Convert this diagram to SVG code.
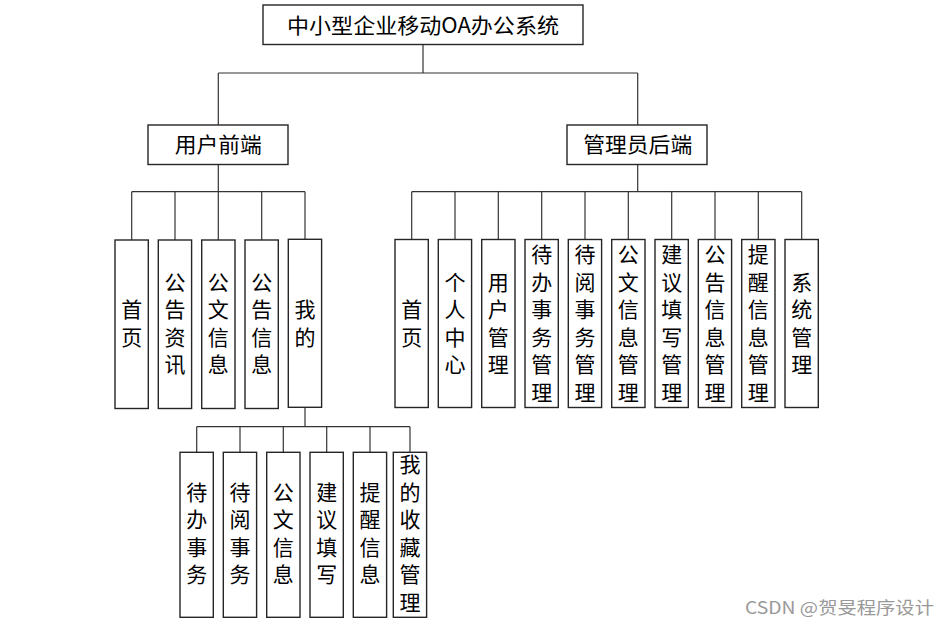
<svg xmlns="http://www.w3.org/2000/svg" width="951" height="629" viewBox="0 0 951 629">
<style>
rect{fill:#fff;stroke:#262626;stroke-width:1.4}
text{font-family:"Noto Sans CJK SC","Noto Sans",sans-serif;font-size:21px;fill:#000;text-anchor:middle}
#connectors line{stroke:#333;stroke-width:1.2}
.wm{font-size:17px;fill:#999;text-anchor:start}
</style>
<rect x="0" y="0" width="951" height="629" style="fill:#fff;stroke:none"/>
<g id="connectors">
<line x1="423" y1="44" x2="423" y2="73"/>
<line x1="218.3" y1="73" x2="637.7" y2="73"/>
<line x1="218.3" y1="73" x2="218.3" y2="125"/>
<line x1="637.7" y1="73" x2="637.7" y2="125"/>
<line x1="218.3" y1="164" x2="218.3" y2="191.7"/>
<line x1="131.7" y1="191.7" x2="305" y2="191.7"/>
<line x1="131.7" y1="191.7" x2="131.7" y2="240"/>
<line x1="175" y1="191.7" x2="175" y2="240"/>
<line x1="218.3" y1="191.7" x2="218.3" y2="240"/>
<line x1="261.7" y1="191.7" x2="261.7" y2="240"/>
<line x1="305" y1="191.7" x2="305" y2="240"/>
<line x1="637.7" y1="164" x2="637.7" y2="191.7"/>
<line x1="411.7" y1="191.7" x2="801.7" y2="191.7"/>
<line x1="411.7" y1="191.7" x2="411.7" y2="240"/>
<line x1="455" y1="191.7" x2="455" y2="240"/>
<line x1="498.3" y1="191.7" x2="498.3" y2="240"/>
<line x1="541.7" y1="191.7" x2="541.7" y2="240"/>
<line x1="585" y1="191.7" x2="585" y2="240"/>
<line x1="628.3" y1="191.7" x2="628.3" y2="240"/>
<line x1="671.7" y1="191.7" x2="671.7" y2="240"/>
<line x1="715" y1="191.7" x2="715" y2="240"/>
<line x1="758.3" y1="191.7" x2="758.3" y2="240"/>
<line x1="801.7" y1="191.7" x2="801.7" y2="240"/>
<line x1="305" y1="408" x2="305" y2="426.7"/>
<line x1="196.7" y1="426.7" x2="410" y2="426.7"/>
<line x1="196.7" y1="426.7" x2="196.7" y2="452.3"/>
<line x1="240" y1="426.7" x2="240" y2="452.3"/>
<line x1="283.3" y1="426.7" x2="283.3" y2="452.3"/>
<line x1="326.7" y1="426.7" x2="326.7" y2="452.3"/>
<line x1="370" y1="426.7" x2="370" y2="452.3"/>
<line x1="410" y1="426.7" x2="410" y2="452.3"/>
</g>
<g id="root"><rect x="263" y="5" width="320" height="39.5"/><text x="423" y="32.5" textLength="272" lengthAdjust="spacingAndGlyphs">中小型企业移动OA办公系统</text></g>
<g id="user"><rect x="148" y="125" width="140" height="39.5"/><text x="218.3" y="152.3" textLength="87" lengthAdjust="spacingAndGlyphs">用户前端</text></g>
<g id="admin"><rect x="567" y="125" width="140" height="39.5"/><text x="637.7" y="152.3" textLength="109" lengthAdjust="spacingAndGlyphs">管理员后端</text></g>

<g id="u1"><rect x="115" y="240" width="33.3" height="168.5"/><text x="131.7" y="317.3"><tspan x="131.7">首</tspan><tspan x="131.7" dy="27.5">页</tspan></text></g>
<g id="u2"><rect x="158.3" y="240" width="33.3" height="168.5"/><text x="175" y="289.8"><tspan x="175">公</tspan><tspan x="175" dy="27.5">告</tspan><tspan x="175" dy="27.5">资</tspan><tspan x="175" dy="27.5">讯</tspan></text></g>
<g id="u3"><rect x="201.7" y="240" width="33.3" height="168.5"/><text x="218.3" y="289.8"><tspan x="218.3">公</tspan><tspan x="218.3" dy="27.5">文</tspan><tspan x="218.3" dy="27.5">信</tspan><tspan x="218.3" dy="27.5">息</tspan></text></g>
<g id="u4"><rect x="245" y="240" width="33.3" height="168.5"/><text x="261.7" y="289.8"><tspan x="261.7">公</tspan><tspan x="261.7" dy="27.5">告</tspan><tspan x="261.7" dy="27.5">信</tspan><tspan x="261.7" dy="27.5">息</tspan></text></g>
<g id="u5"><rect x="288.3" y="239.3" width="33.3" height="168"/><text x="305" y="317.3"><tspan x="305">我</tspan><tspan x="305" dy="27.5">的</tspan></text></g>

<g id="a1"><rect x="395" y="239.5" width="33.3" height="168"/><text x="411.7" y="317.3"><tspan x="411.7">首</tspan><tspan x="411.7" dy="27.5">页</tspan></text></g>
<g id="a2"><rect x="438.3" y="239.5" width="33.3" height="168"/><text x="455" y="289.8"><tspan x="455">个</tspan><tspan x="455" dy="27.5">人</tspan><tspan x="455" dy="27.5">中</tspan><tspan x="455" dy="27.5">心</tspan></text></g>
<g id="a3"><rect x="481.7" y="239.5" width="33.3" height="168"/><text x="498.3" y="289.8"><tspan x="498.3">用</tspan><tspan x="498.3" dy="27.5">户</tspan><tspan x="498.3" dy="27.5">管</tspan><tspan x="498.3" dy="27.5">理</tspan></text></g>
<g id="a4"><rect x="525" y="239.5" width="33.3" height="168"/><text x="541.7" y="262.3"><tspan x="541.7">待</tspan><tspan x="541.7" dy="27.5">办</tspan><tspan x="541.7" dy="27.5">事</tspan><tspan x="541.7" dy="27.5">务</tspan><tspan x="541.7" dy="27.5">管</tspan><tspan x="541.7" dy="27.5">理</tspan></text></g>
<g id="a5"><rect x="568.3" y="239.5" width="33.3" height="168"/><text x="585" y="262.3"><tspan x="585">待</tspan><tspan x="585" dy="27.5">阅</tspan><tspan x="585" dy="27.5">事</tspan><tspan x="585" dy="27.5">务</tspan><tspan x="585" dy="27.5">管</tspan><tspan x="585" dy="27.5">理</tspan></text></g>
<g id="a6"><rect x="611.7" y="239.5" width="33.3" height="168"/><text x="628.3" y="262.3"><tspan x="628.3">公</tspan><tspan x="628.3" dy="27.5">文</tspan><tspan x="628.3" dy="27.5">信</tspan><tspan x="628.3" dy="27.5">息</tspan><tspan x="628.3" dy="27.5">管</tspan><tspan x="628.3" dy="27.5">理</tspan></text></g>
<g id="a7"><rect x="655" y="239.5" width="33.3" height="168"/><text x="671.7" y="262.3"><tspan x="671.7">建</tspan><tspan x="671.7" dy="27.5">议</tspan><tspan x="671.7" dy="27.5">填</tspan><tspan x="671.7" dy="27.5">写</tspan><tspan x="671.7" dy="27.5">管</tspan><tspan x="671.7" dy="27.5">理</tspan></text></g>
<g id="a8"><rect x="698.3" y="239.5" width="33.3" height="168"/><text x="715" y="262.3"><tspan x="715">公</tspan><tspan x="715" dy="27.5">告</tspan><tspan x="715" dy="27.5">信</tspan><tspan x="715" dy="27.5">息</tspan><tspan x="715" dy="27.5">管</tspan><tspan x="715" dy="27.5">理</tspan></text></g>
<g id="a9"><rect x="741.7" y="239.5" width="33.3" height="168"/><text x="758.3" y="262.3"><tspan x="758.3">提</tspan><tspan x="758.3" dy="27.5">醒</tspan><tspan x="758.3" dy="27.5">信</tspan><tspan x="758.3" dy="27.5">息</tspan><tspan x="758.3" dy="27.5">管</tspan><tspan x="758.3" dy="27.5">理</tspan></text></g>
<g id="a10"><rect x="785" y="239.5" width="33.3" height="168"/><text x="801.7" y="289.8"><tspan x="801.7">系</tspan><tspan x="801.7" dy="27.5">统</tspan><tspan x="801.7" dy="27.5">管</tspan><tspan x="801.7" dy="27.5">理</tspan></text></g>

<g id="m1"><rect x="180" y="452.3" width="33.3" height="165"/><text x="196.7" y="499.8"><tspan x="196.7">待</tspan><tspan x="196.7" dy="27.5">办</tspan><tspan x="196.7" dy="27.5">事</tspan><tspan x="196.7" dy="27.5">务</tspan></text></g>
<g id="m2"><rect x="223.3" y="452.3" width="33.3" height="165"/><text x="240" y="499.8"><tspan x="240">待</tspan><tspan x="240" dy="27.5">阅</tspan><tspan x="240" dy="27.5">事</tspan><tspan x="240" dy="27.5">务</tspan></text></g>
<g id="m3"><rect x="266.7" y="452.3" width="33.3" height="165"/><text x="283.3" y="499.8"><tspan x="283.3">公</tspan><tspan x="283.3" dy="27.5">文</tspan><tspan x="283.3" dy="27.5">信</tspan><tspan x="283.3" dy="27.5">息</tspan></text></g>
<g id="m4"><rect x="310" y="452.3" width="33.3" height="165"/><text x="326.7" y="499.8"><tspan x="326.7">建</tspan><tspan x="326.7" dy="27.5">议</tspan><tspan x="326.7" dy="27.5">填</tspan><tspan x="326.7" dy="27.5">写</tspan></text></g>
<g id="m5"><rect x="353.3" y="452.3" width="33.3" height="165"/><text x="370" y="499.8"><tspan x="370">提</tspan><tspan x="370" dy="27.5">醒</tspan><tspan x="370" dy="27.5">信</tspan><tspan x="370" dy="27.5">息</tspan></text></g>
<g id="m6"><rect x="393.3" y="452.3" width="33.3" height="165"/><text x="410" y="472.3"><tspan x="410">我</tspan><tspan x="410" dy="27.5">的</tspan><tspan x="410" dy="27.5">收</tspan><tspan x="410" dy="27.5">藏</tspan><tspan x="410" dy="27.5">管</tspan><tspan x="410" dy="27.5">理</tspan></text></g>

<text class="wm" x="745" y="614" textLength="189" lengthAdjust="spacingAndGlyphs">CSDN @贺旻程序设计</text>
</svg>
